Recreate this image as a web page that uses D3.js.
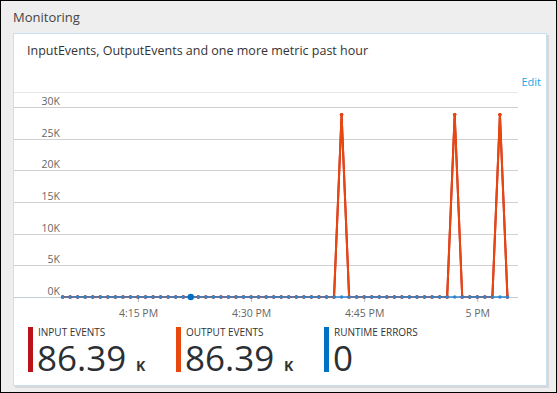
<!DOCTYPE html>
<html>
<head>
<meta charset="utf-8">
<script src="https://cdn.jsdelivr.net/npm/d3@7"></script>
<style>
  body { margin: 0; background: #fff; }
  svg { display: block; font-family: "Segoe UI", "Open Sans", sans-serif; }
</style>
</head>
<body>
<div id="chart"></div>
<script>
// one point per minute, 4:05 PM .. 5:04 PM
const startTime = new Date(2017, 0, 1, 16, 5);
const minutes = d3.range(60);
const spikeMinutes = [37, 52, 58];   // 4:42, 4:57, 5:03
const spikeValue = 28797;

const inputEvents = minutes.map(m => spikeMinutes.includes(m) ? spikeValue : 0);
const outputEvents = minutes.map(m => spikeMinutes.includes(m) ? spikeValue : 0);
const runtimeErrors = minutes.map(() => 0);
const highlightMinute = 17; // 4:22, hovered point

const yTicks = [0, 5000, 10000, 15000, 20000, 25000, 30000];
const xTicks = [new Date(2017, 0, 1, 16, 15), new Date(2017, 0, 1, 16, 30),
                new Date(2017, 0, 1, 16, 45), new Date(2017, 0, 1, 17, 0)];
const xTickLabels = ['4:15 PM', '4:30 PM', '4:45 PM', '5 PM'];

const tiles = [
  { label: 'INPUT EVENTS', value: '86.39', unit: 'K', color: '#ba141a' },
  { label: 'OUTPUT EVENTS', value: '86.39', unit: 'K', color: '#e8470d' },
  { label: 'RUNTIME ERRORS', value: '0', unit: '', color: '#0072c6' }
];

const W = 557, H = 393;
const svg = d3.select('#chart').append('svg')
    .attr('width', W)
    .attr('height', H);

// page background + outer frame
svg.append('rect').attr('x', 0.5).attr('y', 0.5).attr('width', W - 1).attr('height', H - 1)
    .attr('fill', '#eeeeee').attr('stroke', '#000');

svg.append('text').attr('x', 13).attr('y', 22)
    .attr('font-size', 13).attr('fill', '#444').text('Monitoring');

// card
svg.append('rect').attr('x', 15).attr('y', 35).attr('width', 534).attr('height', 353)
    .attr('fill', '#d8d8d8');
svg.append('rect').attr('x', 13.5).attr('y', 33.5).attr('width', 533).attr('height', 352)
    .attr('fill', '#fff').attr('stroke', '#c7e0f4');

svg.append('text').attr('x', 27).attr('y', 55)
    .attr('font-size', 12.5).attr('fill', '#333')
    .text('InputEvents, OutputEvents and one more metric past hour');

svg.append('text').attr('x', 541).attr('y', 86).attr('text-anchor', 'end')
    .attr('font-size', 11).attr('fill', '#14a9e6').text('Edit');

// scales
const x = d3.scaleTime()
    .domain([xTicks[0], xTicks[3]])
    .range([138, 477.3]);
const y = d3.scaleLinear()
    .domain([0, 30000])
    .range([297, 107]);

const timeOf = m => d3.timeMinute.offset(startTime, m);

// grid
const grid = svg.append('g');
grid.append('line').attr('x1', 14).attr('x2', 518)
    .attr('y1', Math.round(y(32400)) + 0.5).attr('y2', Math.round(y(32400)) + 0.5)
    .attr('stroke', '#e6e6e6');
grid.selectAll('line.g').data(yTicks.slice(1)).enter().append('line')
    .attr('class', 'g')
    .attr('x1', 14).attr('x2', 518)
    .attr('y1', d => Math.round(y(d)) + 0.5).attr('y2', d => Math.round(y(d)) + 0.5)
    .attr('stroke', '#d0d0d0');
grid.append('line').attr('x1', 14).attr('x2', 518)
    .attr('y1', y(0) + 0.5).attr('y2', y(0) + 0.5)
    .attr('stroke', '#c2ccd6');

grid.selectAll('text').data(yTicks).enter().append('text')
    .attr('x', 60).attr('y', d => y(d) - 2)
    .attr('text-anchor', 'end')
    .attr('font-size', 10.5).attr('fill', '#666')
    .text(d => (d / 1000) + 'K');

// x axis
const xAxis = svg.append('g')
    .attr('transform', 'translate(0,' + (y(0) + 1) + ')')
    .call(d3.axisBottom(x).tickValues(xTicks).tickSize(4).tickPadding(8)
        .tickFormat((d, i) => xTickLabels[i]));
xAxis.select('.domain').remove();
xAxis.selectAll('line').attr('stroke', '#bbb');
xAxis.selectAll('text').attr('font-size', 10.5).attr('fill', '#666')
    .attr('font-family', '"Segoe UI", "Open Sans", sans-serif');

// series
const series = [
  { values: inputEvents, color: '#ba141a', width: 2 },
  { values: outputEvents, color: '#e8470d', width: 2 },
  { values: runtimeErrors, color: '#2f86d0', width: 1.5 }
];
const line = d3.line()
    .x((d, i) => x(timeOf(i)))
    .y(d => y(d));

series.forEach(s => {
  svg.append('path').datum(s.values)
      .attr('d', line)
      .attr('fill', 'none')
      .attr('stroke', s.color)
      .attr('stroke-width', s.width)
      .attr('stroke-linejoin', 'round');
});
series.forEach(s => {
  svg.append('g').selectAll('circle').data(s.values).enter().append('circle')
      .attr('cx', (d, i) => x(timeOf(i)))
      .attr('cy', d => y(d))
      .attr('r', 1.7)
      .attr('fill', s.color);
});
svg.append('circle')
    .attr('cx', x(timeOf(highlightMinute)))
    .attr('cy', y(runtimeErrors[highlightMinute]))
    .attr('r', 3.2)
    .attr('fill', '#0072c6');

// summary tiles
const tileX = [28, 176, 324];
const tile = svg.selectAll('g.tile').data(tiles).enter().append('g')
    .attr('class', 'tile')
    .attr('transform', (d, i) => 'translate(' + tileX[i] + ',327)');
tile.append('rect').attr('width', 5).attr('height', 45).attr('fill', d => d.color);
tile.append('text').attr('x', 10).attr('y', 9)
    .attr('font-size', 10).attr('fill', '#333')
    .text(d => d.label);
tile.append('text').attr('x', 9).attr('y', 44)
    .attr('font-size', 35).attr('fill', '#2b2f33')
    .text(d => d.value);
tile.append('text').attr('x', 108).attr('y', 44)
    .attr('font-size', 14).attr('font-weight', 'bold').attr('fill', '#333')
    .text(d => d.unit);
</script>
</body>
</html>
